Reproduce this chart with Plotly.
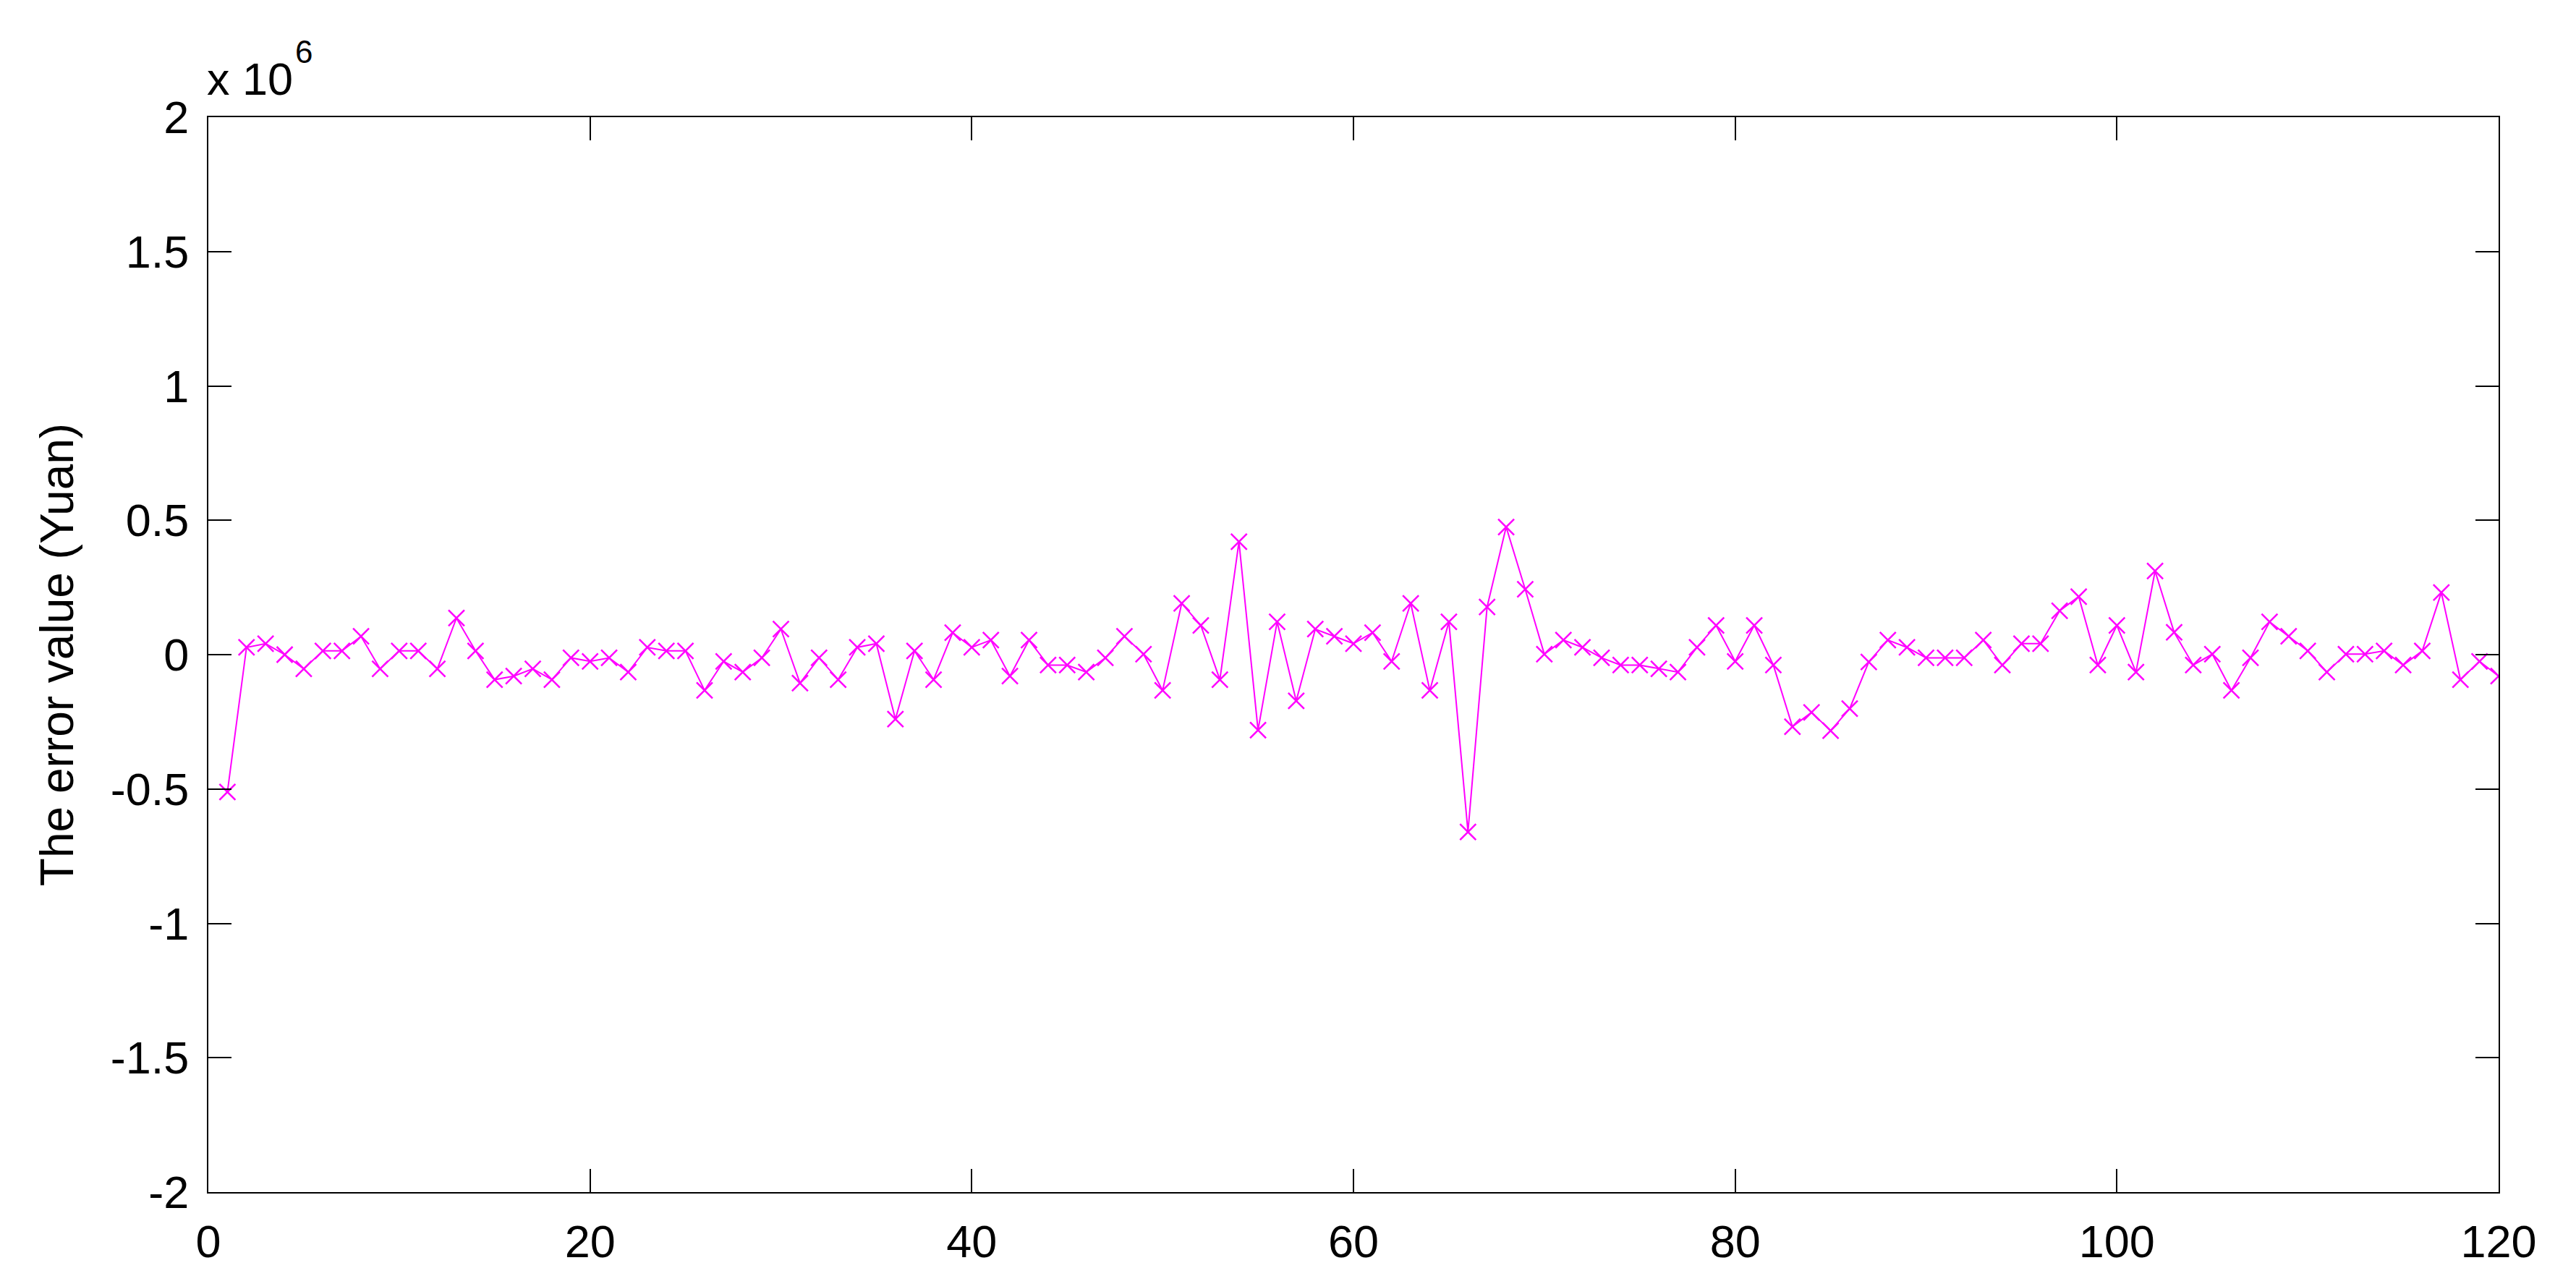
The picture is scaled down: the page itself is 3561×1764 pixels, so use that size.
import plotly.graph_objects as go

# sample index
x_index = list(range(1, 121))
# error value, in units of 10^6 Yuan
error_values = [
    -0.511, 0.027, 0.041, 0.000, -0.053, 0.014, 0.014, 0.068, -0.053, 0.014,
    0.014, -0.053, 0.136, 0.014, -0.093, -0.080, -0.053, -0.093, -0.012, -0.025,
    -0.012, -0.065, 0.027, 0.014, 0.014, -0.133, -0.025, -0.065, -0.012, 0.095,
    -0.106, -0.012, -0.093, 0.027, 0.041, -0.240, 0.014, -0.093, 0.082, 0.027,
    0.054, -0.080, 0.054, -0.039, -0.039, -0.065, -0.012, 0.068, 0.002, -0.133,
    0.191, 0.109, -0.093, 0.420, -0.281, 0.122, -0.172, 0.095, 0.068, 0.041,
    0.082, -0.025, 0.191, -0.133, 0.122, -0.660, 0.177, 0.475, 0.243, 0.002,
    0.054, 0.027, -0.012, -0.039, -0.039, -0.053, -0.065, 0.027, 0.109, -0.025,
    0.109, -0.039, -0.268, -0.215, -0.283, -0.201, -0.027, 0.054, 0.027, -0.012,
    -0.012, -0.012, 0.054, -0.039, 0.041, 0.041, 0.163, 0.216, -0.039, 0.109,
    -0.065, 0.311, 0.083, -0.039, 0.002, -0.133, -0.012, 0.122, 0.068, 0.014,
    -0.065, 0.002, 0.002, 0.014, -0.039, 0.014, 0.231, -0.093, -0.025, -0.080,
]

x_ticks = [0, 20, 40, 60, 80, 100, 120]
y_ticks = [-2, -1.5, -1, -0.5, 0, 0.5, 1, 1.5, 2]
y_tick_labels = ["-2", "-1.5", "-1", "-0.5", "0", "0.5", "1", "1.5", "2"]
scale_base = "x 10"
scale_exponent = "6"

FONT = "Liberation Sans, Arial, sans-serif"
FS = 63

fig = go.Figure()
fig.add_trace(go.Scatter(
    x=x_index, y=error_values,
    mode="lines+markers",
    line=dict(color="#FF00FF", width=2),
    marker=dict(symbol="x-thin", size=22, color="#FF00FF",
                line=dict(color="#FF00FF", width=2.5)),
    showlegend=False,
))

axis_common = dict(
    showline=True, linecolor="black", linewidth=2, mirror="ticks",
    ticks="inside", ticklen=32, tickwidth=2, tickcolor="black",
    showgrid=False, zeroline=False,
    tickfont=dict(family=FONT, size=FS, color="black"),
)

fig.update_xaxes(range=[0, 120], tickmode="array", tickvals=x_ticks,
                 ticklabelstandoff=12, **axis_common)
fig.update_yaxes(range=[-2, 2], tickmode="array", tickvals=y_ticks,
                 ticktext=y_tick_labels, ticklabelstandoff=12,
                 title=dict(text="The error value (Yuan)",
                            font=dict(family=FONT, size=64, color="black"),
                            standoff=30),
                 **axis_common)

fig.add_annotation(
    xref="paper", yref="paper", x=0, y=1, xanchor="left", yanchor="bottom",
    yshift=16, xshift=-4,
    text=scale_base, showarrow=False,
    font=dict(family=FONT, size=FS, color="black"),
)
fig.add_annotation(
    xref="paper", yref="paper", x=0, y=1, xanchor="left", yanchor="bottom",
    yshift=64, xshift=118,
    text=scale_exponent, showarrow=False,
    font=dict(family=FONT, size=44, color="black"),
)

fig.update_layout(
    width=3561, height=1764,
    margin=dict(l=280, r=115, t=154, b=124),
    paper_bgcolor="white", plot_bgcolor="white",
    font=dict(family=FONT, color="black"),
)

fig.write_html("out.html", config={"displayModeBar": False})
